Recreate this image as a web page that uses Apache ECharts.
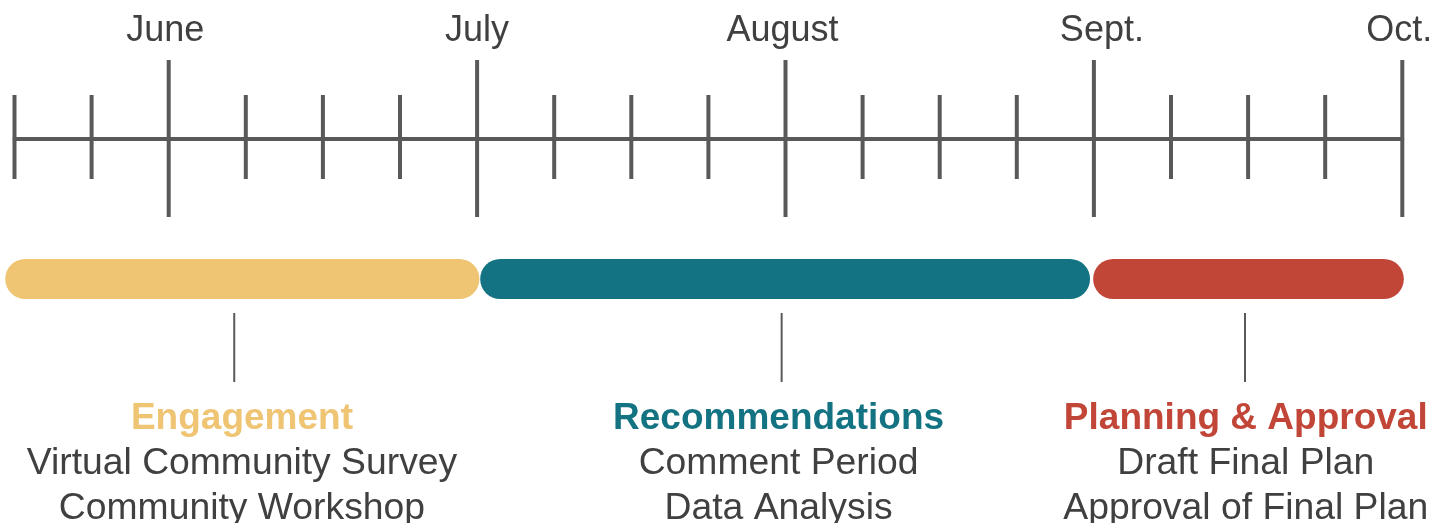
<!DOCTYPE html>
<html>
<head>
<meta charset="utf-8">
<script src="https://cdn.jsdelivr.net/npm/echarts@6/dist/echarts.min.js"></script>
<style>
html,body{margin:0;padding:0;background:#fff;}
#chart{width:1434px;height:523px;}
</style>
</head>
<body>
<div id="chart"></div>
<script>
// Timeline in weeks (index 0 .. 18)
var weeks = [0,1,2,3,4,5,6,7,8,9,10,11,12,13,14,15,16,17,18];
var monthWeeks = [2, 6, 10, 14, 18];
var monthNames = ['June', 'July', 'August', 'Sept.', 'Oct.'];

// Phases (start/end in weeks)
var phaseNames = ['Engagement', 'Recommendations', 'Planning & Approval'];
var phaseStart = [-0.12, 6.04, 13.99];
var phaseEnd = [6.03, 13.95, 18.02];
var phaseConnector = [2.85, 9.95, 15.96];
var phaseLabelAt = [2.95, 9.91, 15.97];
var phaseItems = [
  ['Virtual Community Survey', 'Community Workshop'],
  ['Comment Period', 'Data Analysis'],
  ['Draft Final Plan', 'Approval of Final Plan']
];
var phaseColors = ['#EFC473', '#147382', '#C24638'];

var FONT = '"Liberation Sans", Arial, Helvetica, sans-serif';
var TEXT = '#404040';
var LINE = '#595959';

// small horizontal nudges of month labels (style only)
var monthPad = [[0, 7, 0, 0], [0, 0, 0, 0], [0, 6, 0, 0], [0, 0, 0, 16], [0, 6, 0, 0]];

var chart = echarts.init(document.getElementById('chart'), null, {renderer: 'canvas'});

var tickData = weeks.map(function (w) { return [w, monthWeeks.indexOf(w) >= 0 ? 1 : 0]; });
var phaseData = phaseNames.map(function (n, i) { return [phaseStart[i], phaseEnd[i], phaseConnector[i], phaseLabelAt[i], i]; });

var rich = {};
monthNames.forEach(function (m, k) {
  rich['m' + k] = {
    color: TEXT, fontSize: 36, fontFamily: FONT,
    padding: [0, monthPad[k][1], 0, monthPad[k][3]]
  };
});

chart.setOption({
  animation: false,
  grid: {left: 14.5, right: 31.7, top: 139, bottom: 0, containLabel: false, outerBoundsMode: 'none'},
  xAxis: {
    type: 'value', min: 0, max: 18, interval: 1, position: 'top',
    axisLine: {show: true, onZero: false, lineStyle: {color: LINE, width: 4}},
    axisTick: {show: false},
    splitLine: {show: false},
    axisLabel: {
      show: true, margin: 108, verticalAlign: 'middle',
      color: TEXT, fontSize: 36, fontFamily: FONT,
      rich: rich,
      formatter: function (v) {
        var k = monthWeeks.indexOf(v);
        return k >= 0 ? '{m' + k + '|' + monthNames[k] + '}' : '';
      }
    }
  },
  yAxis: {type: 'value', min: 0, max: 1, show: false},
  series: [
    {
      type: 'custom',
      clip: false,
      data: tickData,
      renderItem: function (params, api) {
        var x = api.coord([api.value(0), 0])[0];
        var y0 = params.coordSys.y;
        var major = api.value(1) === 1;
        var up = major ? 79 : 44;
        var down = major ? 78 : 40;
        return {
          type: 'line',
          shape: {x1: x, y1: y0 - up, x2: x, y2: y0 + down},
          style: {stroke: LINE, lineWidth: 4}
        };
      },
      z: 3
    },
    {
      type: 'custom',
      clip: false,
      data: phaseData,
      renderItem: function (params, api) {
        var i = api.value(4);
        var y0 = params.coordSys.y;
        var xs = api.coord([api.value(0), 0])[0];
        var xe = api.coord([api.value(1), 0])[0];
        var xc = api.coord([api.value(2), 0])[0];
        var xl = api.coord([api.value(3), 0])[0];
        var barTop = y0 + 120, barH = 40;
        var children = [
          {
            type: 'rect',
            shape: {x: xs, y: barTop, width: xe - xs, height: barH, r: barH / 2},
            style: {fill: phaseColors[i]}
          },
          {
            type: 'line',
            shape: {x1: xc, y1: y0 + 174, x2: xc, y2: y0 + 243},
            style: {stroke: LINE, lineWidth: 2}
          },
          {
            type: 'text',
            style: {
              x: xl, y: y0 + 280, text: phaseNames[i],
              fill: phaseColors[i], font: 'bold 37px ' + FONT,
              align: 'center', verticalAlign: 'middle'
            }
          }
        ];
        phaseItems[i].forEach(function (t, j) {
          children.push({
            type: 'text',
            style: {
              x: xl, y: y0 + 325 + j * 45, text: t,
              fill: TEXT, font: '37.3px ' + FONT,
              align: 'center', verticalAlign: 'middle'
            }
          });
        });
        return {type: 'group', children: children};
      },
      z: 2
    }
  ]
});
</script>
</body>
</html>
